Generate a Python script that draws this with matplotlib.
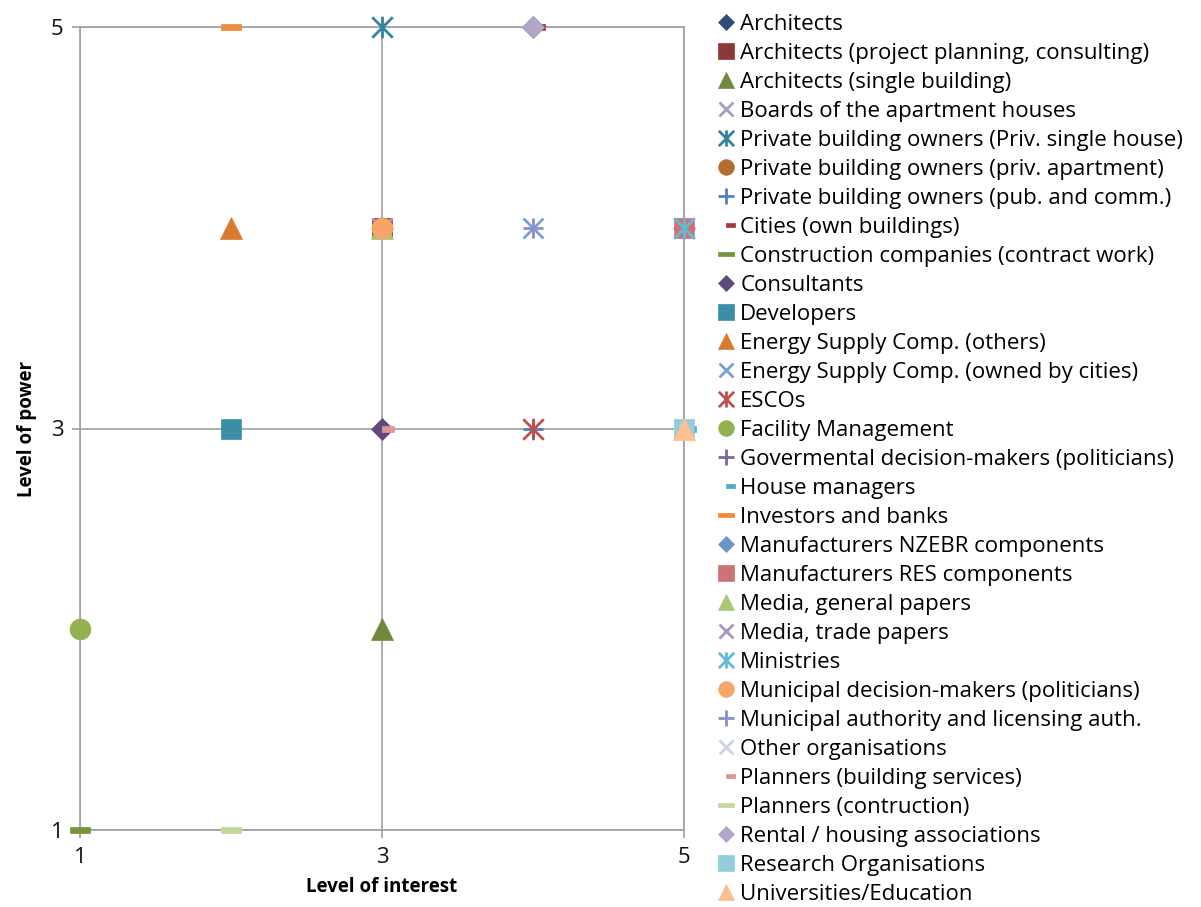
import matplotlib
matplotlib.use("Agg")
import matplotlib.pyplot as plt
from matplotlib.path import Path

plt.rcParams['font.family'] = ['Open Sans', 'DejaVu Sans']

# stakeholder groups (legend order) with level of interest / level of power
groups = [
    "Architects",
    "Architects (project planning, consulting)",
    "Architects (single building)",
    "Boards of the apartment houses",
    "Private building owners (Priv. single house)",
    "Private building owners (priv. apartment)",
    "Private building owners (pub. and comm.)",
    "Cities (own buildings)",
    "Construction companies (contract work)",
    "Consultants",
    "Developers",
    "Energy Supply Comp. (others)",
    "Energy Supply Comp. (owned by cities)",
    "ESCOs",
    "Facility Management",
    "Govermental decision-makers (politicians)",
    "House managers",
    "Investors and banks",
    "Manufacturers NZEBR components",
    "Manufacturers RES components",
    "Media, general papers",
    "Media, trade papers",
    "Ministries",
    "Municipal decision-makers (politicians)",
    "Municipal authority and licensing auth.",
    "Other organisations",
    "Planners (building services)",
    "Planners (contruction)",
    "Rental / housing associations",
    "Research Organisations",
    "Universities/Education",
]
interest = [4, 3, 3, 3, 3, 3, 4, 4, 1, 3, 2, 2, 4, 4, 1, 5, 5, 2, 5, 5, 3, 5, 5, 3, 4, 5, 3, 2, 4, 5, 5]
power    = [5, 4, 2, 4, 5, 4, 3, 5, 1, 3, 3, 4, 4, 3, 2, 4, 3, 5, 4, 4, 4, 4, 4, 4, 4, 3, 3, 1, 5, 3, 3]

# marker kinds and colours per series
kinds = ["dia", "sq", "tri", "x", "star", "circ", "plus", "sdash", "ldash",
         "dia", "sq", "tri", "x", "star", "circ", "plus", "sdash", "ldash",
         "dia", "sq", "tri", "x", "star", "circ", "plus", "x", "sdash", "ldash",
         "dia", "sq", "tri"]
colors = ["#2C4D75", "#8C3836", "#71893F", "#A99BC4", "#31849B", "#B66D31", "#4F81BD",
          "#9E3B38", "#77933C", "#5F4A7B", "#3C8EA5", "#D97B2F", "#7A9FD4", "#C0504D",
          "#93B150", "#7F63A1", "#4BACC6", "#F08A3A", "#6D93CB", "#CD7371", "#A9C873",
          "#A697C6", "#62BBD5", "#F7A56A", "#8D8FC6", "#C9D4EA", "#DA9694", "#C3D69B",
          "#B2A6C9", "#93CDDD", "#FAC090"]

star_path = Path([(-1, -1), (1, 1), (-1, 1), (1, -1), (0, -1.05), (0, 1.05)],
                 [Path.MOVETO, Path.LINETO, Path.MOVETO, Path.LINETO, Path.MOVETO, Path.LINETO])
sdash_path = Path([(0, -0.25), (1, -0.25), (1, 0.25), (0, 0.25), (0, -0.25)],
                  [Path.MOVETO, Path.LINETO, Path.LINETO, Path.LINETO, Path.CLOSEPOLY])
ldash_path = Path([(-1, -0.3), (1, -0.3), (1, 0.3), (-1, 0.3), (-1, -0.3)],
                  [Path.MOVETO, Path.LINETO, Path.LINETO, Path.LINETO, Path.CLOSEPOLY])

def style(kind, c):
    if kind == "dia":
        return dict(marker="D", ms=11, mfc=c, mec=c, mew=0.5)
    if kind == "sq":
        return dict(marker="s", ms=15, mfc=c, mec=c, mew=0.5)
    if kind == "tri":
        return dict(marker="^", ms=16, mfc=c, mec=c, mew=0.5)
    if kind == "circ":
        return dict(marker="o", ms=15, mfc=c, mec=c, mew=0.5)
    if kind == "x":
        return dict(marker="x", ms=14, mec=c, mew=2)
    if kind == "plus":
        return dict(marker="+", ms=15, mec=c, mew=2)
    if kind == "star":
        return dict(marker=star_path, ms=15.5, mfc="none", mec=c, mew=2)
    if kind == "sdash":
        return dict(marker=sdash_path, ms=17, mfc=c, mec=c, mew=0.5)
    return dict(marker=ldash_path, ms=15, mfc=c, mec=c, mew=0.5)

fig = plt.figure(figsize=(12.01, 9.07), dpi=100)
ax = fig.add_axes([80 / 1201, 1 - 830 / 907, 604 / 1201, 803 / 907])

handles = []
for name, xv, yv, k, c in zip(groups, interest, power, kinds, colors):
    ln, = ax.plot([xv], [yv], linestyle="none", clip_on=False, zorder=3, label=name, **style(k, c))
    handles.append(ln)

ax.set_xlim(1, 5)
ax.set_ylim(1, 5)
ax.set_xticks([1, 3, 5])
ax.set_yticks([1, 3, 5])
ax.grid(True, color="#A0A0A0", linewidth=1.2)
ax.set_axisbelow(True)
for sp in ax.spines.values():
    sp.set_color("#A0A0A0")
    sp.set_linewidth(1.2)
ax.tick_params(direction="out", length=6, width=1.2, color="#A0A0A0",
               labelsize=16, labelcolor="#111111", pad=6)
ax.set_xlabel("Level of interest", fontsize=13.5, fontweight="bold", labelpad=7)
ax.set_ylabel("Level of power", fontsize=13.5, fontweight="bold", labelpad=10)

fig.legend(handles=handles, loc="upper left", bbox_to_anchor=(718 / 1201, 1 - 14 / 907),
           frameon=False, fontsize=16, handlelength=0.75, handletextpad=0.25,
           labelspacing=0.36, markerscale=0.75, borderpad=0, borderaxespad=0)

fig.savefig("out.png", dpi=100)
